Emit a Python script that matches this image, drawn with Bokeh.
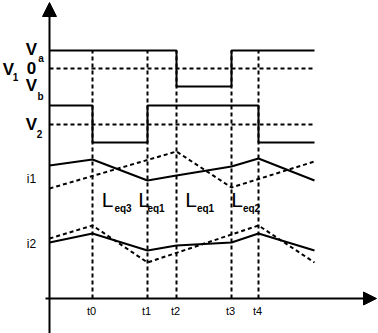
from bokeh.plotting import figure
from bokeh.models import Range1d, Arrow, NormalHead
from bokeh.core.properties import value
from bokeh.embed import file_html
from bokeh.resources import INLINE

# ---- data (time axis in arbitrary units, origin at axes crossing) ----
tick_labels = ["t0", "t1", "t2", "t3", "t4"]
times = [43, 98, 127, 182, 209]
t_end = 265

# V1 square wave: levels a (high), b (low), zero reference
v1_levels = {"a": 248, "zero": 230, "b": 212}
v1_x = [0, times[2], times[3], t_end]
v1_y = [v1_levels["a"], v1_levels["b"], v1_levels["a"], v1_levels["a"]]

# V2 square wave
v2_levels = {"hi": 193, "zero": 174, "lo": 156}
v2_x = [0, times[0], times[1], times[4], t_end]
v2_y = [v2_levels["hi"], v2_levels["lo"], v2_levels["hi"], v2_levels["lo"], v2_levels["lo"]]

# i1 currents
i1_solid_x = [0, times[0], times[1], times[2], times[3], times[4], t_end]
i1_solid_y = [133, 139, 118, 123, 132, 140, 118]
i1_dash_x = [0, times[2], times[3], t_end]
i1_dash_y = [110, 147, 111, 137]

# i2 currents
i2_solid_x = [0, times[0], times[1], times[2], times[3], times[4], t_end]
i2_solid_y = [56, 65, 48, 53, 56, 65, 48]
i2_dash_x = [0, times[0], times[1], times[4], t_end]
i2_dash_y = [60, 73, 36, 73, 36]

# interval inductance labels
l_subs = ["eq3", "eq1", "eq1", "eq2"]

# ---- figure ----
p = figure(width=378, height=333, x_range=Range1d(-49, 329), y_range=Range1d(-35, 298),
           output_backend="svg", toolbar_location=None, min_border=0)
p.axis.visible = False
p.grid.visible = False
p.outline_line_color = None
p.background_fill_color = "white"

DASH = "4 3"
LW = 2

# axes with arrows
p.add_layout(Arrow(end=NormalHead(size=13, fill_color="black", line_color="black", line_width=1),
                   x_start=-4, y_start=0, x_end=327, y_end=0, line_width=2, line_color="black"))
p.add_layout(Arrow(end=NormalHead(size=14, fill_color="black", line_color="black", line_width=1),
                   x_start=0, y_start=-35, x_end=0, y_end=296, line_width=2, line_color="black"))

# vertical dashed time markers
p.segment(x0=times, y0=[0] * len(times), x1=times, y1=[v1_levels["a"]] * len(times),
          line_color="black", line_width=LW, line_dash=DASH)

# horizontal zero references
p.segment(x0=[0, 0], y0=[v1_levels["zero"], v2_levels["zero"]], x1=[t_end, t_end],
          y1=[v1_levels["zero"], v2_levels["zero"]], line_color="black", line_width=LW, line_dash=DASH)

# square waves
p.step(v1_x, v1_y, mode="after", line_color="black", line_width=LW)
p.step(v2_x, v2_y, mode="after", line_color="black", line_width=LW)

# currents
p.line(i1_solid_x, i1_solid_y, line_color="black", line_width=LW)
p.line(i1_dash_x, i1_dash_y, line_color="black", line_width=LW, line_dash=DASH)
p.line(i2_solid_x, i2_solid_y, line_color="black", line_width=LW)
p.line(i2_dash_x, i2_dash_y, line_color="black", line_width=LW, line_dash=DASH)

SANS = value("Liberation Sans")

def txt(x, y, t, size, style="normal"):
    p.text(x=x, y=y, text=t, text_font=SANS, text_font_size=size, text_font_style=style,
           text_align="center", text_baseline="middle", text_color="black")

# voltage labels
txt([-18, -18, -41], [249.5, 213, 229.5], ["V", "V", "V"], "17px", "bold")
txt([-18], [230.5], ["0"], "17px", "bold")
txt([-8.5, -9, -34], [240.5, 202, 221.5], ["a", "b", "1"], "10px", "bold")
txt([-18], [174.5], ["V"], "17px", "bold")
txt([-10], [164.5], ["2"], "10px", "bold")

# current labels
txt([-18, -18], [119.5, 55], ["i1", "i2"], "12px")

# inductance labels
txt([58, 94.5, 141.5, 187.5], [99.5] * 4, ["L"] * 4, "21px")
txt([73.5, 106.5, 156, 202], [90.5] * 4, l_subs, "10px", "bold")

# time tick labels
txt([t - 1 for t in times], [-12] * len(times), tick_labels, "11px")

open("out.html", "w").write(file_html(p, INLINE))
